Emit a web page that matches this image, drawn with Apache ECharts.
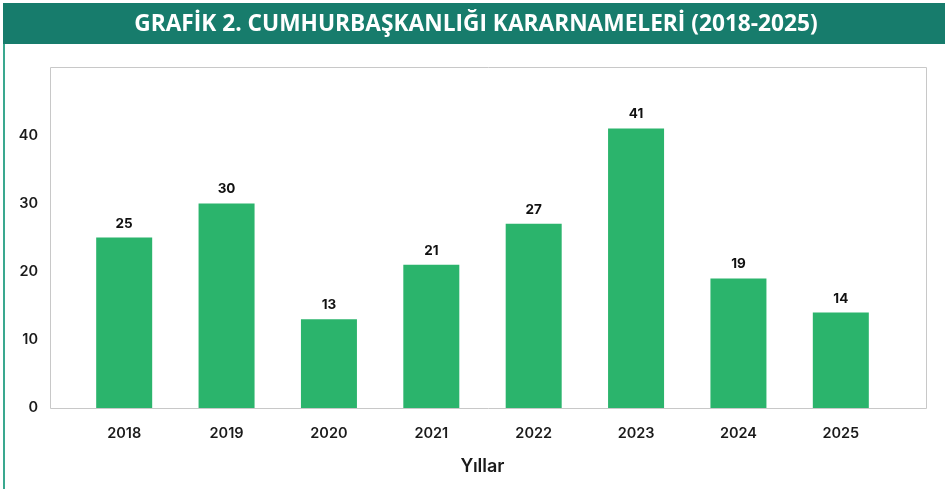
<!DOCTYPE html>
<html><head><meta charset="utf-8">
<script src="https://cdn.jsdelivr.net/npm/echarts@6/dist/echarts.min.js"></script>
<style>html,body{margin:0;padding:0;background:#fff}#c{width:945px;height:489px}</style>
</head><body><div id="c"></div>
<script>
const categories = ['2018','2019','2020','2021','2022','2023','2024','2025'];
const values = [25, 30, 13, 21, 27, 41, 19, 14];
const titleText = 'GRAFİK 2. CUMHURBAŞKANLIĞI KARARNAMELERİ (2018-2025)';
const axisName = 'Yıllar';

const chart = echarts.init(document.getElementById('c'));
chart.setOption({
  animation: false,
  backgroundColor: '#fff',
  graphic: [
    { type: 'rect', z: -1, shape: { x: 3, y: 3, width: 942, height: 41 }, style: { fill: '#177c6c' } },
    { type: 'rect', shape: { x: 3, y: 44, width: 2, height: 445 }, style: { fill: '#3aa88f' } },
    { type: 'rect', z: -1, shape: { x: 50.5, y: 67.5, width: 876, height: 341 }, style: { fill: 'none', stroke: '#c8c8c8', lineWidth: 1 } },
    { type: 'text', z: 10, x: 476, y: 25, style: { text: titleText, fill: '#fff', font: 'bold 22.7px "Open Sans"', textAlign: 'center', textVerticalAlign: 'middle' } }
  ],
  grid: { left: 73, right: 53, top: 67, bottom: 81 },
  xAxis: {
    type: 'category', data: categories,
    name: axisName, nameLocation: 'middle', nameGap: 50,
    nameTextStyle: { color: '#1a1a1a', fontSize: 18, fontFamily: 'Inter', fontWeight: 600 },
    axisLine: { show: false }, axisTick: { show: false },
    axisLabel: { color: '#1a1a1a', fontSize: 14.5, fontFamily: 'Inter', fontWeight: 600, margin: 18 }
  },
  yAxis: {
    type: 'value', min: 0, max: 50, interval: 10,
    splitLine: { show: false }, axisLine: { show: false }, axisTick: { show: false },
    axisLabel: { color: '#1a1a1a', fontSize: 14.5, fontFamily: 'Inter', fontWeight: 600, margin: 35, showMaxLabel: false }
  },
  series: [{
    type: 'bar', data: values, barWidth: 56,
    itemStyle: { color: '#2bb46c' },
    label: { show: true, position: 'top', distance: 7, color: '#111', fontSize: 13.5, fontFamily: 'Inter', fontWeight: 'bold' }
  }]
});
</script></body></html>
